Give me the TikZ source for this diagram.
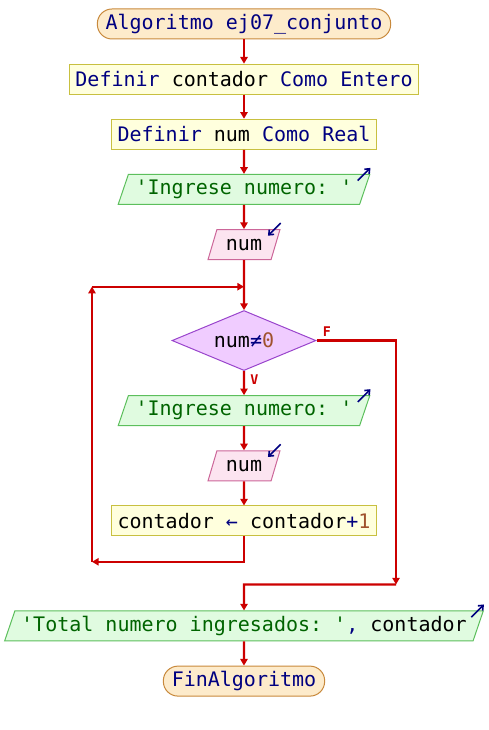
\documentclass[tikz,border=0pt]{standalone}
\usepackage{fontspec}
\setmonofont{DejaVu Sans Mono}
\usepackage{xcolor}
\usepackage{tikz}
\usetikzlibrary{positioning,shapes.geometric,arrows.meta,calc}
\definecolor{termfill}{HTML}{FDEBCB}
\definecolor{termdraw}{HTML}{C8893C}
\definecolor{procfill}{HTML}{FFFFDD}
\definecolor{procdraw}{HTML}{C8C040}
\definecolor{outfill}{HTML}{E0FBE0}
\definecolor{outdraw}{HTML}{5CBF5C}
\definecolor{infill}{HTML}{FCE4F0}
\definecolor{indraw}{HTML}{CC6699}
\definecolor{condfill}{HTML}{F0CCFF}
\definecolor{conddraw}{HTML}{9944CC}
\definecolor{flowred}{HTML}{CC0000}
\definecolor{kwblue}{HTML}{000080}
\definecolor{strgreen}{HTML}{006400}
\definecolor{numbrown}{HTML}{A0522D}
\newcommand{\kwd}[1]{\textcolor{kwblue}{#1}}
\newcommand{\strg}[1]{\textcolor{strgreen}{#1}}
\newcommand{\numb}[1]{\textcolor{numbrown}{#1}}
\newcommand{\oper}[1]{\textcolor{kwblue}{#1}}
\tikzset{
    base/.style={draw, line width=0.75pt, minimum height=22.5pt, inner sep=2pt, align=center, font=\ttfamily\fontsize{15}{17}\selectfont},
    terminal/.style={base, rectangle, rounded corners=11pt, fill=termfill, draw=termdraw},
    process/.style={base, rectangle, fill=procfill, draw=procdraw},
    output/.style={base, trapezium, trapezium left angle=68, trapezium right angle=112, trapezium stretches=true, fill=outfill, draw=outdraw},
    input/.style={base, trapezium, trapezium left angle=68, trapezium right angle=112, trapezium stretches=true, fill=infill, draw=indraw},
    decision/.style={base, diamond, aspect=2.4, inner sep=0pt, minimum width=108pt, minimum height=45pt, fill=condfill, draw=conddraw},
    arrow/.style={-{Triangle[width=5.5pt,length=5pt]}, line width=1.6pt, color=flowred},
    icon/.style={-{Straight Barb[length=3pt,width=5pt]}, line width=1.2pt, color=kwblue},
    branch/.style={font=\ttfamily\bfseries\fontsize{10}{12}\selectfont, text=flowred, inner sep=2pt}
}
\begin{document}
\begin{tikzpicture}[node distance=18.1pt]
    \useasboundingbox (-183pt,18pt) rectangle (183pt,-529.5pt);
    \node[terminal, minimum width=220pt] (inicio) {\kwd{Algoritmo ej07\_conjunto}};
    \node[process, minimum width=261pt, below=of inicio] (defcont) {\kwd{Definir} contador \kwd{Como Entero}};
    \node[process, minimum width=198pt, below=of defcont] (defnum) {\kwd{Definir} num \kwd{Como Real}};
    \node[output, minimum width=189pt, below=of defnum] (pedir1) {\strg{'Ingrese numero: '}};
    \node[input, minimum width=54pt, below=of pedir1] (leer1) {num};
    \node[decision, below=37.5pt of leer1] (cond) {num\oper{≠}\numb{0}};
    \node[output, minimum width=189pt, below=of cond] (pedir2) {\strg{'Ingrese numero: '}};
    \node[input, minimum width=54pt, below=of pedir2] (leer2) {num};
    \node[process, minimum width=198pt, below=of leer2] (sumar) {contador \oper{←} contador\oper{+}\numb{1}};
    \node[output, minimum width=360pt, below=55.5pt of sumar] (mostrar) {\strg{'Total numero ingresados: '}\oper{,} contador};
    \node[terminal, minimum width=121pt, below=of mostrar] (fin) {\kwd{FinAlgoritmo}};
    % io marks
    \draw[icon] ([shift={(-9.5pt,-5pt)}]pedir1.top right corner) -- ++(9.5pt,9.5pt);
    \draw[icon] ([shift={(-9.5pt,-5pt)}]pedir2.top right corner) -- ++(9.5pt,9.5pt);
    \draw[icon] ([shift={(-9.5pt,-5pt)}]mostrar.top right corner) -- ++(9.5pt,9.5pt);
    \draw[icon] ([yshift=4.5pt]leer1.top right corner) -- ++(-9.5pt,-9.5pt);
    \draw[icon] ([yshift=4.5pt]leer2.top right corner) -- ++(-9.5pt,-9.5pt);
    % loop points
    \coordinate[below=20pt of leer1] (junta);
    \coordinate (retorno) at ($(sumar.south)+(-114pt,-19pt)$);
    \coordinate (esquina) at (retorno |- junta);
    \coordinate[above=19.5pt of mostrar] (union);
    \coordinate (falso) at ($(union)+(114pt,0)$);
    % flow
    \draw[arrow] (inicio) -- (defcont);
    \draw[arrow] (defcont) -- (defnum);
    \draw[arrow] (defnum) -- (pedir1);
    \draw[arrow] (pedir1) -- (leer1);
    \draw[arrow] (leer1) -- (cond);
    \draw[arrow] (cond.south) node[branch, anchor=north west, xshift=2pt] {V} -- (pedir2);
    \draw[arrow] (pedir2) -- (leer2);
    \draw[arrow] (leer2) -- (sumar);
    \draw[arrow] (sumar.south) |- (retorno);
    \draw[arrow] (retorno) -- (esquina);
    \draw[arrow] (esquina) -- (junta);
    \draw[arrow] (cond.east) node[branch, anchor=south west, xshift=2pt] {F} -| (falso);
    \draw[arrow] (falso) -- (union) -- (mostrar);
    \draw[arrow] (mostrar) -- (fin);
\end{tikzpicture}
\end{document}
